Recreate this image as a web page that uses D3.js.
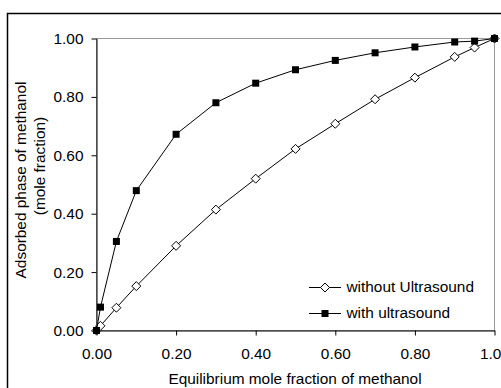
<!DOCTYPE html>
<html>
<head>
<meta charset="utf-8">
<script src="https://cdn.jsdelivr.net/npm/d3@7"></script>
<style>
  body { margin: 0; background: #fff; }
  text { font-family: "Liberation Sans", Arial, sans-serif; fill: #000; }
</style>
</head>
<body>
<svg id="chart" width="501" height="388"></svg>
<script>
// equilibrium mole fraction of methanol (x)
const xValues = [0, 0.01, 0.05, 0.1, 0.2, 0.3, 0.4, 0.5, 0.6, 0.7, 0.8, 0.9, 0.95, 1.0];
// adsorbed phase, without ultrasound
const withoutUS = [0, 0.016, 0.078, 0.152, 0.29, 0.414, 0.52, 0.622, 0.708, 0.792, 0.866, 0.937, 0.969, 1.0];
// adsorbed phase, with ultrasound
const withUS = [0, 0.08, 0.305, 0.479, 0.672, 0.78, 0.847, 0.893, 0.925, 0.951, 0.971, 0.988, 0.991, 1.0];
const tickValues = [0, 0.2, 0.4, 0.6, 0.8, 1.0];
const seriesNames = ['without Ultrasound', 'with ultrasound'];

const svg = d3.select('#chart');
const fontSize = '15.4px';

// outer chart frame (runs off the right/bottom edges)
svg.append('rect')
  .attr('x', 7.5).attr('y', 13.5)
  .attr('width', 520).attr('height', 400)
  .attr('fill', 'none').attr('stroke', '#000').attr('stroke-width', 1.5);

const pLeft = 96.5, pRight = 494.5, pTop = 38.5, pBottom = 330.5;
const x = d3.scaleLinear().domain([0, 1]).range([pLeft, pRight]);
const y = d3.scaleLinear().domain([0, 1]).range([pBottom, pTop]);

// plot area border (grey top/right)
svg.append('rect')
  .attr('x', pLeft).attr('y', pTop)
  .attr('width', pRight - pLeft).attr('height', pBottom - pTop)
  .attr('fill', 'none').attr('stroke', '#999').attr('stroke-width', 1);

const fmt = d3.format('.2f');

const xAxis = svg.append('g')
  .attr('transform', `translate(0,${pBottom})`)
  .call(d3.axisBottom(x).tickValues(tickValues).tickFormat(fmt).tickSize(5).tickSizeOuter(0).tickPadding(13));
const yAxis = svg.append('g')
  .attr('transform', `translate(${pLeft},0)`)
  .call(d3.axisLeft(y).tickValues(tickValues).tickFormat(fmt).tickSize(5).tickSizeOuter(0).tickPadding(8));

[xAxis, yAxis].forEach(g => {
  g.selectAll('text').style('font-size', fontSize).style('font-family', '"Liberation Sans", Arial, sans-serif');
  g.selectAll('line, path').attr('stroke', '#000');
});

// axis titles
svg.append('text')
  .attr('x', 295).attr('y', 384)
  .attr('text-anchor', 'middle').style('font-size', fontSize)
  .text('Equilibrium mole fraction of methanol');

svg.append('text')
  .attr('transform', 'translate(26,180) rotate(-90)')
  .attr('text-anchor', 'middle').style('font-size', fontSize)
  .text('Adsorbed phase of methanol');
svg.append('text')
  .attr('transform', 'translate(45,166) rotate(-90)')
  .attr('text-anchor', 'middle').style('font-size', fontSize)
  .text('(mole fraction)');

const line = d3.line().x(d => x(d[0])).y(d => y(d[1]));
const ptsWithout = xValues.map((v, i) => [v, withoutUS[i]]);
const ptsWith = xValues.map((v, i) => [v, withUS[i]]);

const r = 4.5;
const diamond = `M0,${-r}L${r},0L0,${r}L${-r},0Z`;

function drawWithout(g, pts) {
  g.append('path').attr('d', line(pts)).attr('fill', 'none').attr('stroke', '#000').attr('stroke-width', 1);
  g.selectAll('path.m').data(pts).join('path').attr('class', 'm')
    .attr('d', diamond)
    .attr('transform', d => `translate(${x(d[0])},${y(d[1])})`)
    .attr('fill', '#fff').attr('stroke', '#000').attr('stroke-width', 1);
}
function drawWith(g, pts) {
  g.append('path').attr('d', line(pts)).attr('fill', 'none').attr('stroke', '#000').attr('stroke-width', 1);
  g.selectAll('rect').data(pts).join('rect')
    .attr('x', d => x(d[0]) - 3.5).attr('y', d => y(d[1]) - 3.5)
    .attr('width', 7).attr('height', 7).attr('fill', '#000');
}

drawWithout(svg.append('g'), ptsWithout);
drawWith(svg.append('g'), ptsWith);

// legend
const legend = svg.append('g');
seriesNames.forEach((name, i) => {
  const ly = 287.5 + i * 26;
  legend.append('line').attr('x1', 309).attr('x2', 341).attr('y1', ly).attr('y2', ly)
    .attr('stroke', '#000').attr('stroke-width', 1);
  if (i === 0) {
    legend.append('path').attr('d', diamond).attr('transform', `translate(325,${ly})`)
      .attr('fill', '#fff').attr('stroke', '#000');
  } else {
    legend.append('rect').attr('x', 321.5).attr('y', ly - 3.5).attr('width', 7).attr('height', 7).attr('fill', '#000');
  }
  legend.append('text').attr('x', 346.5).attr('y', ly + 4.5).style('font-size', fontSize).text(name);
});
</script>
</body>
</html>
